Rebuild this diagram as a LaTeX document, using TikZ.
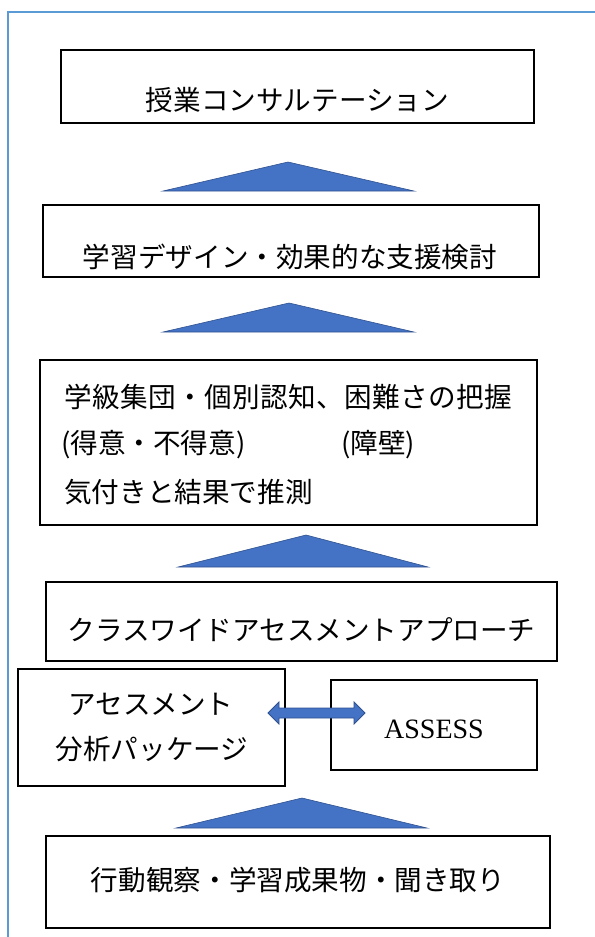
\documentclass[tikz,border=0pt]{standalone}
\usepackage{fontspec}
\setmainfont{Noto Sans CJK JP}
\newfontfamily\latserif{Liberation Serif}
\definecolor{framec}{RGB}{91,155,213}
\definecolor{trifill}{RGB}{68,114,196}
\definecolor{triedge}{RGB}{47,82,143}
\tikzset{
  boxnode/.style={draw=black, line width=2bp, inner sep=0, fill=white},
  txt/.style={inner sep=0, text=black, font=\fontsize{27.6bp}{33bp}\selectfont},
  uptri/.style={fill=trifill, draw=triedge, line width=0.6bp, line join=miter},
  dblarrow/.style={fill=trifill, draw=triedge, line width=0.8bp, line join=miter},
}
\begin{document}
\begin{tikzpicture}[x=1bp,y=-1bp]
\useasboundingbox (0,0) rectangle (595,937);
% outer frame (left and top edges visible)
\draw[framec, line width=2.6bp] (600,12) -- (8,12) -- (8,945);

% boxes
\node[boxnode, minimum width=473bp, minimum height=73bp] (b1) at (297.5,86.5) {};
\node[txt] (t1) at (297.5,100) {授業コンサルテーション};

\draw[uptri] (163,191) -- (288,162) -- (414,191) -- cycle;

\node[boxnode, minimum width=496bp, minimum height=72bp] (b2) at (291,241) {};
\node[txt] (t2) at (290,257) {学習デザイン・効果的な支援検討};

\draw[uptri] (163,332) -- (289,303) -- (414,332) -- cycle;

\node[boxnode, minimum width=497bp, minimum height=165bp] (b3) at (288.5,442.5) {};
\node[txt, anchor=west] (t3a) at (64,397) {\makebox[448bp][s]{学\hfill 級\hfill 集\hfill 団\hfill ・\hfill 個\hfill 別\hfill 認\hfill 知\hfill 、\hfill 困\hfill 難\hfill さ\hfill の\hfill 把\hfill 握}};
\node[txt, anchor=west] (t3b) at (61,445) {(得意・不得意)};
\node[txt, anchor=west] (t3c) at (341,445) {(障壁)};
\node[txt, anchor=west] (t3d) at (64,492) {気付きと結果で推測};

\draw[uptri] (178,567) -- (306,535) -- (428,567) -- cycle;

\node[boxnode, minimum width=511bp, minimum height=79bp] (b4) at (301.5,621.5) {};
\node[txt] (t4) at (301.5,630) {クラスワイドアセスメントアプローチ};

\node[boxnode, minimum width=267bp, minimum height=117bp] (b5) at (151.5,727.5) {};
\node[txt] (t5a) at (151,704) {アセスメント};
\node[txt] (t5b) at (152,749) {分析パッケージ};

\node[boxnode, minimum width=206bp, minimum height=90bp] (b6) at (434,725) {};
\node[inner sep=0, font=\latserif\fontsize{28bp}{33bp}\selectfont] (t6) at (434,729) {ASSESS};

% double block arrow between the two boxes
\draw[dblarrow] (268,713) -- (279,702) -- (279,708) -- (354,708) -- (354,702) -- (365,713)
  -- (354,724) -- (354,718) -- (279,718) -- (279,724) -- cycle;

\draw[uptri] (176,828) -- (302,798) -- (427,828) -- cycle;

\node[boxnode, minimum width=504bp, minimum height=92bp] (b7) at (298,882) {};
\node[txt] (t7) at (298,880) {行動観察・学習成果物・聞き取り};
\end{tikzpicture}
\end{document}
